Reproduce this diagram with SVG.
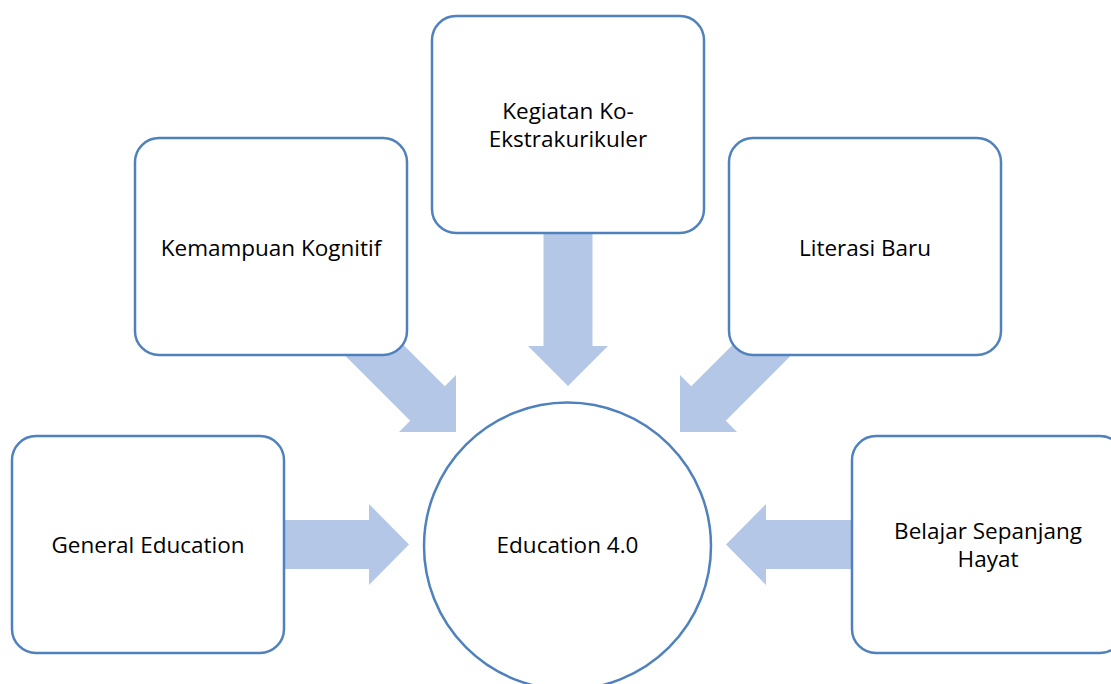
<svg xmlns="http://www.w3.org/2000/svg" width="1111" height="684" viewBox="0 0 1111 684">
<style>
.box{fill:#fff;stroke:#4F81BD;stroke-width:2.5}
.arr{fill:#B4C7E7}
text{font-family:"Open Sans","Noto Sans",sans-serif;font-size:22.5px;fill:#000;text-anchor:middle}
</style>
<rect width="1111" height="684" fill="#fff"/>
<g id="connectors">
<polygon class="arr" points="543.5,220 592.5,220 592.5,346 608,346 568,386 528,346 543.5,346"/>
<polygon class="arr" points="270,520 369,520 369,504 409,544.5 369,585 369,569 270,569"/>
<polygon class="arr" points="870,520 766,520 766,504 726,544.5 766,585 766,569 870,569"/>
<polygon class="arr" points="456,432 399,432 410.2,420.8 322.7,333.3 357.3,298.7 444.8,386.2 456,375"/>
<polygon class="arr" points="680,432 737,432 725.8,420.8 813.3,333.3 778.7,298.7 691.2,386.2 680,375"/>
</g>
<g id="center">
<circle class="box" cx="567.5" cy="546" r="143.5"/>
<text x="567.5" y="553">Education 4.0</text>
</g>
<g id="kegiatan">
<rect class="box" x="432" y="16" width="272" height="217" rx="24"/>
<text x="568" y="119">Kegiatan Ko-</text>
<text x="568" y="147">Ekstrakurikuler</text>
</g>
<g id="kemampuan">
<rect class="box" x="135" y="138" width="272" height="217" rx="24"/>
<text x="271" y="256">Kemampuan Kognitif</text>
</g>
<g id="literasi">
<rect class="box" x="729" y="138" width="272" height="217" rx="24"/>
<text x="865" y="256">Literasi Baru</text>
</g>
<g id="general">
<rect class="box" x="12" y="436" width="272" height="217" rx="24"/>
<text x="148" y="553">General Education</text>
</g>
<g id="belajar">
<rect class="box" x="852" y="436" width="272" height="217" rx="24"/>
<text x="988" y="539">Belajar Sepanjang</text>
<text x="988" y="567">Hayat</text>
</g>
</svg>
